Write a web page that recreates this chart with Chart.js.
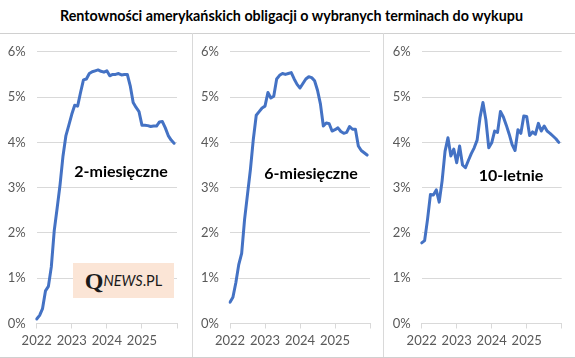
<!DOCTYPE html>
<html><head><meta charset="utf-8">
<script src="https://cdn.jsdelivr.net/npm/chart.js@4"></script>
<style>
html,body{margin:0;padding:0;background:#fff;}
#wrap{position:relative;width:575px;height:358px;overflow:hidden;font-family:Lato,"Noto Sans",sans-serif;}
#title{position:absolute;top:7px;left:4px;width:575px;text-align:center;font-weight:bold;font-size:14.3px;color:#000;white-space:nowrap;}
.hl{position:absolute;height:1px;background:#d0d0d0;}
.vl{position:absolute;width:1px;background:#d9d9d9;}
canvas{position:absolute;}
.lbl{position:absolute;font-weight:bold;font-size:16px;color:#000;white-space:nowrap;transform:translate(-50%,-50%);}
#logo{position:absolute;left:73px;top:263px;width:101px;height:35px;background:#fbe5d6;display:flex;align-items:center;justify-content:center;color:#1a1a1a;}
#logo .q{font-family:"Liberation Serif",serif;font-weight:bold;font-size:24px;line-height:1;}
#logo .n{font-style:italic;font-size:14.5px;}
#logo .p{font-size:14.5px;}
</style></head>
<body>
<div id="wrap">
  <div id="title">Rentowności amerykańskich obligacji o wybranych terminach do wykupu</div>
  <canvas id="c1" width="192" height="324" style="left:0;top:33px"></canvas>
  <canvas id="c2" width="191" height="324" style="left:192px;top:33px"></canvas>
  <canvas id="c3" width="192" height="324" style="left:383px;top:33px"></canvas>
  <div class="hl" style="left:0;top:33px;width:575px"></div>
  <div class="hl" style="left:0;top:357px;width:575px"></div>
  <div class="vl" style="left:192px;top:33px;height:324px"></div>
  <div class="vl" style="left:383px;top:33px;height:324px"></div>
  <div class="lbl" style="left:121px;top:170px">2-miesięczne</div>
  <div class="lbl" style="left:311px;top:172px">6-miesięczne</div>
  <div class="lbl" style="left:511px;top:174px">10-letnie</div>
  <div id="logo"><span class="q">Q</span><span class="n">NEWS</span><span class="p">.PL</span></div>
</div>
<script>
const years = ['2022','2023','2024','2025','2026'];
const monthNums = ['01','02','03','04','05','06','07','08','09','10','11','12'];
const yTickLabels = ['0%','1%','2%','3%','4%','5%','6%'];

const yield2m = [0.10,0.18,0.33,0.72,0.82,1.25,2.05,2.55,3.07,3.70,4.15,4.38,
                 4.62,4.82,4.80,5.10,5.38,5.40,5.52,5.56,5.58,5.60,5.57,5.55,
                 5.58,5.47,5.50,5.50,5.52,5.49,5.50,5.50,5.25,4.88,4.77,4.68,
                 4.38,4.38,4.37,4.35,4.36,4.36,4.45,4.46,4.32,4.15,4.05,3.98];
const yield6m = [0.47,0.58,0.90,1.30,1.55,2.30,2.85,3.40,4.07,4.60,4.68,4.76,
                 4.80,5.10,4.98,5.02,5.40,5.48,5.52,5.50,5.52,5.54,5.40,5.28,
                 5.20,5.30,5.40,5.45,5.43,5.36,5.15,4.85,4.36,4.43,4.41,4.25,
                 4.28,4.32,4.24,4.20,4.22,4.35,4.29,4.29,3.92,3.82,3.77,3.72];
const yield10y = [1.78,1.83,2.30,2.85,2.84,2.95,2.68,3.15,3.80,4.10,3.70,3.85,
                  3.55,3.92,3.50,3.44,3.60,3.75,3.88,4.05,4.55,4.88,4.50,3.88,
                  3.99,4.25,4.22,4.68,4.56,4.38,4.18,3.95,3.82,4.28,4.20,4.58,
                  4.57,4.15,4.23,4.18,4.42,4.25,4.36,4.25,4.20,4.14,4.08,4.00];

// month categories Jan 2022 .. Jan 2026 (axis end)
const months = [];
for (let y = 0; y < 4; y++) for (let m = 0; m < 12; m++) months.push(years[y] + '-' + monthNums[m]);
months.push(years[4] + '-01');

const FONT = {family: 'Lato, "Noto Sans", sans-serif', size: 13};

function makeChart(id, data, L, R) {
  return new Chart(document.getElementById(id), {
    type: 'line',
    data: {labels: months, datasets: [{data: data, borderColor: '#4472C4', borderWidth: 3,
      pointRadius: 0, tension: 0, fill: false, borderJoinStyle: 'round', borderCapStyle: 'round'}]},
    options: {
      responsive: false, animation: false, events: [],
      layout: {padding: {left: 0, right: R, top: 15.3, bottom: 0}},
      plugins: {legend: {display: false}, tooltip: {enabled: false}, title: {display: false}},
      scales: {
        x: {
          type: 'category', offset: false,
          grid: {display: true, drawOnChartArea: false, drawTicks: true, tickLength: 5,
                 color: c => (c.index % 12 === 0) ? '#d9d9d9' : 'rgba(0,0,0,0)'},
          border: {display: true, color: '#d9d9d9', width: 1},
          ticks: {autoSkip: false, maxRotation: 0, minRotation: 0, padding: 5, color: '#595959', font: FONT,
                  callback: (v, i) => (i % 12 === 0 && i < 48) ? years[i / 12] : ''},
          afterFit: s => { s.height = 33.5; }
        },
        y: {
          min: 0, max: 6,
          ticks: {stepSize: 1, padding: 11, color: '#595959', font: FONT, callback: v => yTickLabels[v]},
          grid: {color: '#d9d9d9', drawTicks: false},
          border: {display: false},
          afterFit: s => { s.width = L; }
        }
      }
    }
  });
}
makeChart('c1', yield2m, 36.7, 15);
makeChart('c2', yield6m, 38, 13);
makeChart('c3', yield10y, 38.7, 13.3);
</script>
</body></html>
